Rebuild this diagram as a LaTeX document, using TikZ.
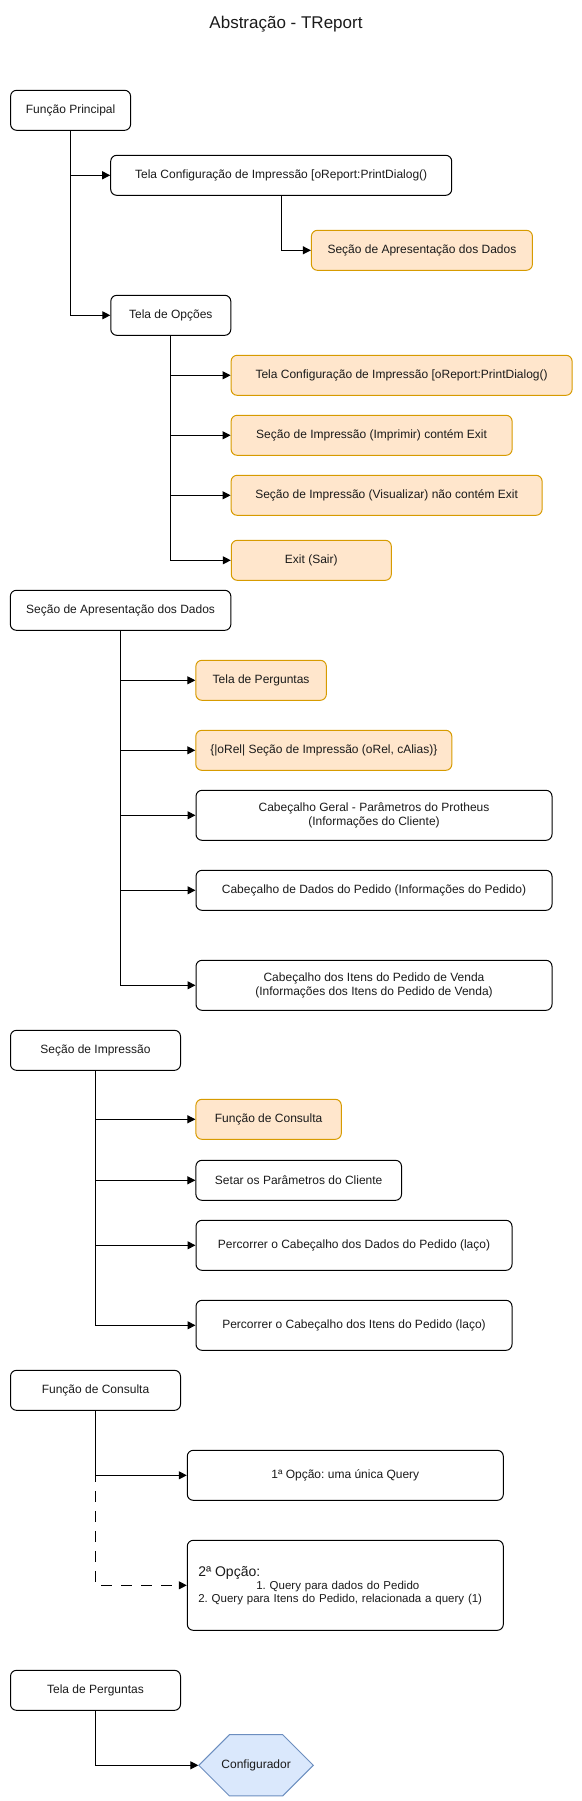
\documentclass[tikz,border=0pt]{standalone}
\usepackage{fontspec}
\setmainfont{Liberation Sans}
\usetikzlibrary{arrows.meta,shapes.misc}
\frenchspacing

\definecolor{orfill}{HTML}{FFE6CC}
\definecolor{orline}{HTML}{D79B00}
\definecolor{blfill}{HTML}{DAE8FC}
\definecolor{blline}{HTML}{6C8EBF}
\definecolor{txt}{HTML}{1A1A1A}

\tikzset{
  box/.style={draw, line width=1pt, rounded corners=6pt, inner sep=0pt,
    minimum height=40pt, text=txt, font=\fontsize{12}{14}\selectfont},
  hl/.style={box, draw=orline, fill=orfill},
  arr/.style={line width=1pt, -{Triangle[length=8pt,width=8pt]}}
}

\begin{document}
\begin{tikzpicture}[x=1pt,y=-1pt]
  \useasboundingbox (0,0) rectangle (581,1801);
  % title
  \node[text=txt, font=\fontsize{17}{19}\selectfont] (title) at (286,24) {Abstração - TReport};
  % main function
  \node[box, minimum width=120pt] (fp) at (70.6,110.3) {Função Principal};
  \node[box, minimum width=341pt] (tc) at (281.2,175.3) {Tela Configuração de Impressão [oReport:PrintDialog()};
  \node[hl, minimum width=221pt] (sad) at (421.9,250.3) {Seção de Apresentação dos Dados};
  \node[box, minimum width=120pt] (to) at (170.8,315.3) {Tela de Opções};
  \draw[arr] (fp.south) |- (tc.west);
  \draw[arr] (fp.south) |- (to.west);
  \draw[arr] (tc.south) |- (sad.west);
  % options
  \node[hl, minimum width=341pt] (tc2) at (401.6,375.3) {Tela Configuração de Impressão [oReport:PrintDialog()};
  \node[hl, minimum width=281pt] (imp) at (371.6,435.3) {Seção de Impressão (Imprimir) contém Exit};
  \node[hl, minimum width=311pt] (vis) at (386.6,495.3) {Seção de Impressão (Visualizar) não contém Exit};
  \node[hl, minimum width=160pt] (ex) at (311.3,560.3) {Exit (Sair)};
  \foreach \n in {tc2,imp,vis,ex}
    \draw[arr] (to.south) |- (\n.west);
  % data presentation
  \node[box, minimum width=220.5pt] (sa) at (120.6,610.3) {Seção de Apresentação dos Dados};
  \node[hl, minimum width=130.5pt] (tp) at (261.1,680.3) {Tela de Perguntas};
  \node[hl, minimum width=256pt] (orel) at (323.8,750.3) {\{|oRel| Seção de Impressão (oRel, cAlias)\}};
  \node[box, minimum width=356pt, minimum height=50pt, align=center] (cg) at (374,815.3) {Cabeçalho Geral - Parâmetros do Protheus\\(Informações do Cliente)};
  \node[box, minimum width=356pt] (cd) at (374,890.3) {Cabeçalho de Dados do Pedido (Informações do Pedido)};
  \node[box, minimum width=356pt, minimum height=50pt, align=center] (ci) at (374,985.3) {Cabeçalho dos Itens do Pedido de Venda\\(Informações dos Itens do Pedido de Venda)};
  \foreach \n in {tp,orel,cg,cd,ci}
    \draw[arr] (sa.south) |- (\n.west);
  % print section
  \node[box, minimum width=170pt] (si) at (95.5,1050.3) {Seção de Impressão};
  \node[hl, minimum width=145.4pt] (fc) at (268.6,1119.3) {Função de Consulta};
  \node[box, minimum width=205.6pt] (sp) at (298.7,1180.3) {Setar os Parâmetros do Cliente};
  \node[box, minimum width=316pt, minimum height=50pt] (pd) at (354,1245.3) {Percorrer o Cabeçalho dos Dados do Pedido (laço)};
  \node[box, minimum width=316pt, minimum height=50pt] (pi) at (354,1325.3) {Percorrer o Cabeçalho dos Itens do Pedido (laço)};
  \foreach \n in {fc,sp,pd,pi}
    \draw[arr] (si.south) |- (\n.west);
  % query function
  \node[box, minimum width=170pt] (fc2) at (95.5,1390.3) {Função de Consulta};
  \node[box, minimum width=316pt, minimum height=50pt] (o1) at (345.3,1475.3) {1ª Opção: uma única Query};
  \node[box, minimum width=316pt, minimum height=90pt, text width=294pt, align=left,
    font=\fontsize{11.5}{14}\selectfont] (o2) at (345.3,1585.3)
    {{\fontsize{14}{16}\selectfont 2ª Opção:}\\[-1pt]\hspace*{58pt}1. Query para dados do Pedido\\[-1pt]2. Query para Itens do Pedido, relacionada a query (1)};
  \draw[arr] (fc2.south) |- (o1.west);
  \draw[arr, dash pattern=on 11pt off 9pt] (fc2.south) |- (o2.west);
  % questions screen
  \node[box, sharp corners, draw=blline, fill=blfill, chamfered rectangle, chamfered rectangle xsep=12pt,
    chamfered rectangle ysep=25pt, minimum width=114.5pt, minimum height=50pt] (cfg) at (256.1,1765.3) {Configurador};
  \node[box, minimum width=170pt] (tp2) at (95.5,1690.3) {Tela de Perguntas};
  \draw[arr] (tp2.south) |- (cfg.west);
\end{tikzpicture}
\end{document}
